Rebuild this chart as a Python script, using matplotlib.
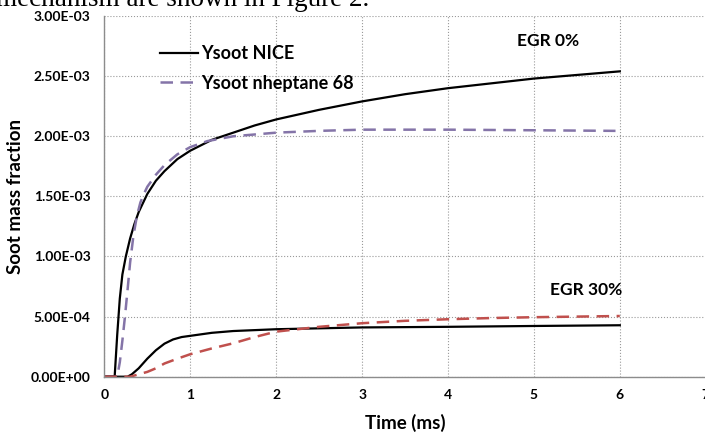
import matplotlib
matplotlib.use("Agg")
import matplotlib.pyplot as plt
from matplotlib.ticker import FuncFormatter

# values
t_nice0 = [0, 0.12, 0.15, 0.18, 0.21, 0.25, 0.3, 0.35, 0.4, 0.5, 0.6, 0.7, 0.85, 1.0,
           1.25, 1.5, 1.75, 2.0, 2.5, 3.0, 3.5, 4.0, 4.5, 5.0, 5.5, 6.0]
y_nice0 = [0, 0, 0.35e-3, 0.65e-3, 0.85e-3, 1.0e-3, 1.15e-3, 1.27e-3, 1.37e-3, 1.52e-3,
           1.63e-3, 1.71e-3, 1.81e-3, 1.88e-3, 1.97e-3, 2.03e-3, 2.09e-3, 2.14e-3,
           2.22e-3, 2.29e-3, 2.35e-3, 2.40e-3, 2.44e-3, 2.48e-3, 2.51e-3, 2.54e-3]

t_hep0 = [0, 0.15, 0.18, 0.21, 0.24, 0.27, 0.3, 0.34, 0.38, 0.42, 0.46, 0.5, 0.6, 0.7,
          0.85, 1.0, 1.2, 1.5, 2.0, 2.5, 3.0, 4.0, 5.0, 5.95]
y_hep0 = [0, 0, 0.12e-3, 0.3e-3, 0.5e-3, 0.72e-3, 0.95e-3, 1.18e-3, 1.34e-3, 1.45e-3,
          1.52e-3, 1.58e-3, 1.68e-3, 1.76e-3, 1.85e-3, 1.91e-3, 1.96e-3, 2.0e-3,
          2.03e-3, 2.045e-3, 2.055e-3, 2.055e-3, 2.05e-3, 2.045e-3]

t_nice30 = [0, 0.27, 0.32, 0.4, 0.5, 0.6, 0.7, 0.8, 0.9, 1.0, 1.25, 1.5, 2.0, 3.0,
            4.0, 5.0, 6.0]
y_nice30 = [0, 0, 0.02e-3, 0.07e-3, 0.15e-3, 0.22e-3, 0.275e-3, 0.31e-3, 0.33e-3,
            0.34e-3, 0.365e-3, 0.38e-3, 0.395e-3, 0.41e-3, 0.415e-3, 0.422e-3, 0.428e-3]

t_hep30 = [0, 0.3, 0.4, 0.5, 0.6, 0.7, 0.85, 1.0, 1.25, 1.5, 1.75, 2.0, 2.5, 3.0,
           3.5, 4.0, 4.5, 5.0, 5.5, 6.0]
y_hep30 = [0, 0, 0.02e-3, 0.04e-3, 0.07e-3, 0.11e-3, 0.15e-3, 0.187e-3, 0.235e-3,
           0.278e-3, 0.33e-3, 0.375e-3, 0.415e-3, 0.445e-3, 0.465e-3, 0.478e-3,
           0.488e-3, 0.495e-3, 0.5e-3, 0.505e-3]

x_ticks = [0, 1, 2, 3, 4, 5, 6, 7]
y_ticks = [0, 0.5e-3, 1.0e-3, 1.5e-3, 2.0e-3, 2.5e-3, 3.0e-3]

plt.rcParams['font.family'] = ['Lato', 'DejaVu Sans']

fig = plt.figure(figsize=(7.05, 4.34), dpi=100)
ax = fig.add_axes([0.148, 0.132, 0.853, 0.831])

purple = '#8474a8'
red = '#c0504d'
l1, = ax.plot(t_nice0, y_nice0, color='black', lw=1.6)
l2, = ax.plot(t_hep0, y_hep0, color=purple, lw=1.8, dashes=(5, 3))
ax.plot(t_nice30, y_nice30, color='black', lw=1.6)
ax.plot(t_hep30, y_hep30, color=red, lw=1.8, dashes=(5, 3))

ax.set_xlim(0, 7)
ax.set_ylim(0, 3.0e-3)
ax.set_xticks(x_ticks)
ax.set_yticks(y_ticks)
ax.yaxis.set_major_formatter(FuncFormatter(lambda v, p: '{:.2E}'.format(v)))
ax.tick_params(length=0, labelsize=10)
ax.tick_params(axis='x', pad=9)
ax.tick_params(axis='y', pad=10)
for lab in ax.get_xticklabels() + ax.get_yticklabels():
    lab.set_fontweight('bold')

ax.grid(True, color='#9a9a9a', linestyle=':', lw=0.8)
ax.set_axisbelow(True)
for s in ['top', 'right']:
    ax.spines[s].set_visible(False)
for s in ['left', 'bottom']:
    ax.spines[s].set_color('#8c8c8c')
    ax.spines[s].set_linewidth(1.0)

ax.set_xlabel('Time (ms)', fontsize=13.5, fontweight='bold')
ax.set_ylabel('Soot mass fraction', fontsize=13.5, fontweight='bold')
ax.xaxis.set_label_coords(0.5, -0.104)
ax.yaxis.set_label_coords(-0.133, 0.5)

ax.legend([l1, l2], ['Ysoot NICE', 'Ysoot nheptane 68'], loc='upper left',
          bbox_to_anchor=(0.066, 0.965), frameon=False, handlelength=2.1,
          handletextpad=0.15, labelspacing=0.7,
          prop={'weight': 'bold', 'size': 13})

ax.text(5.16, 2.79e-3, 'EGR 0%', fontsize=12.5, fontweight='bold', ha='center', va='center')
ax.text(5.61, 0.72e-3, 'EGR 30%', fontsize=12.5, fontweight='bold', ha='center', va='center')

fig.text(-0.005, 1 - 6 / 434, 'mechanism are shown in Figure 2.', fontsize=19.5,
         family='Liberation Serif', va='baseline', ha='left')

fig.savefig('out.png', dpi=100)
